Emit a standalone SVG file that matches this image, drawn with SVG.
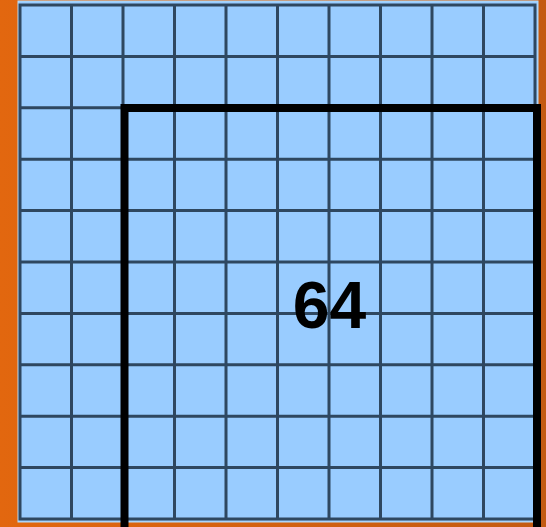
<svg xmlns="http://www.w3.org/2000/svg" width="546" height="527" viewBox="0 0 546 527">
<defs>
<linearGradient id="bg" x1="0" y1="0" x2="1" y2="0">
<stop offset="0" stop-color="#E2670F"/>
<stop offset="1" stop-color="#C35A12"/>
</linearGradient>
<style>
.g{stroke:#2E4760;stroke-width:3;fill:none}
.t{font-family:"Liberation Sans",Arial,sans-serif;font-weight:bold;font-size:66px;fill:#000;text-anchor:middle}
</style>
</defs>
<rect width="546" height="527" fill="url(#bg)"/>
<rect x="18" y="1" width="520" height="521" fill="#99CCFF" stroke="#B8DDF8" stroke-width="1"/>
<g id="grid" class="g">
<rect x="20" y="5" width="515" height="514"/>
<path d="M71.5 5V519M123 5V519M174.5 5V519M226 5V519M277.5 5V519M329 5V519M380.5 5V519M432 5V519M483.5 5V519"/>
<path d="M20 56.4H535M20 107.8H535M20 159.2H535M20 210.6H535M20 262H535M20 313.4H535M20 364.8H535M20 416.2H535M20 467.6H535"/>
</g>
<g id="region">
<rect x="124.5" y="108" width="412.5" height="440" fill="none" stroke="#000" stroke-width="8"/>
<text class="t" x="329.5" y="328">64</text>
</g>
</svg>
